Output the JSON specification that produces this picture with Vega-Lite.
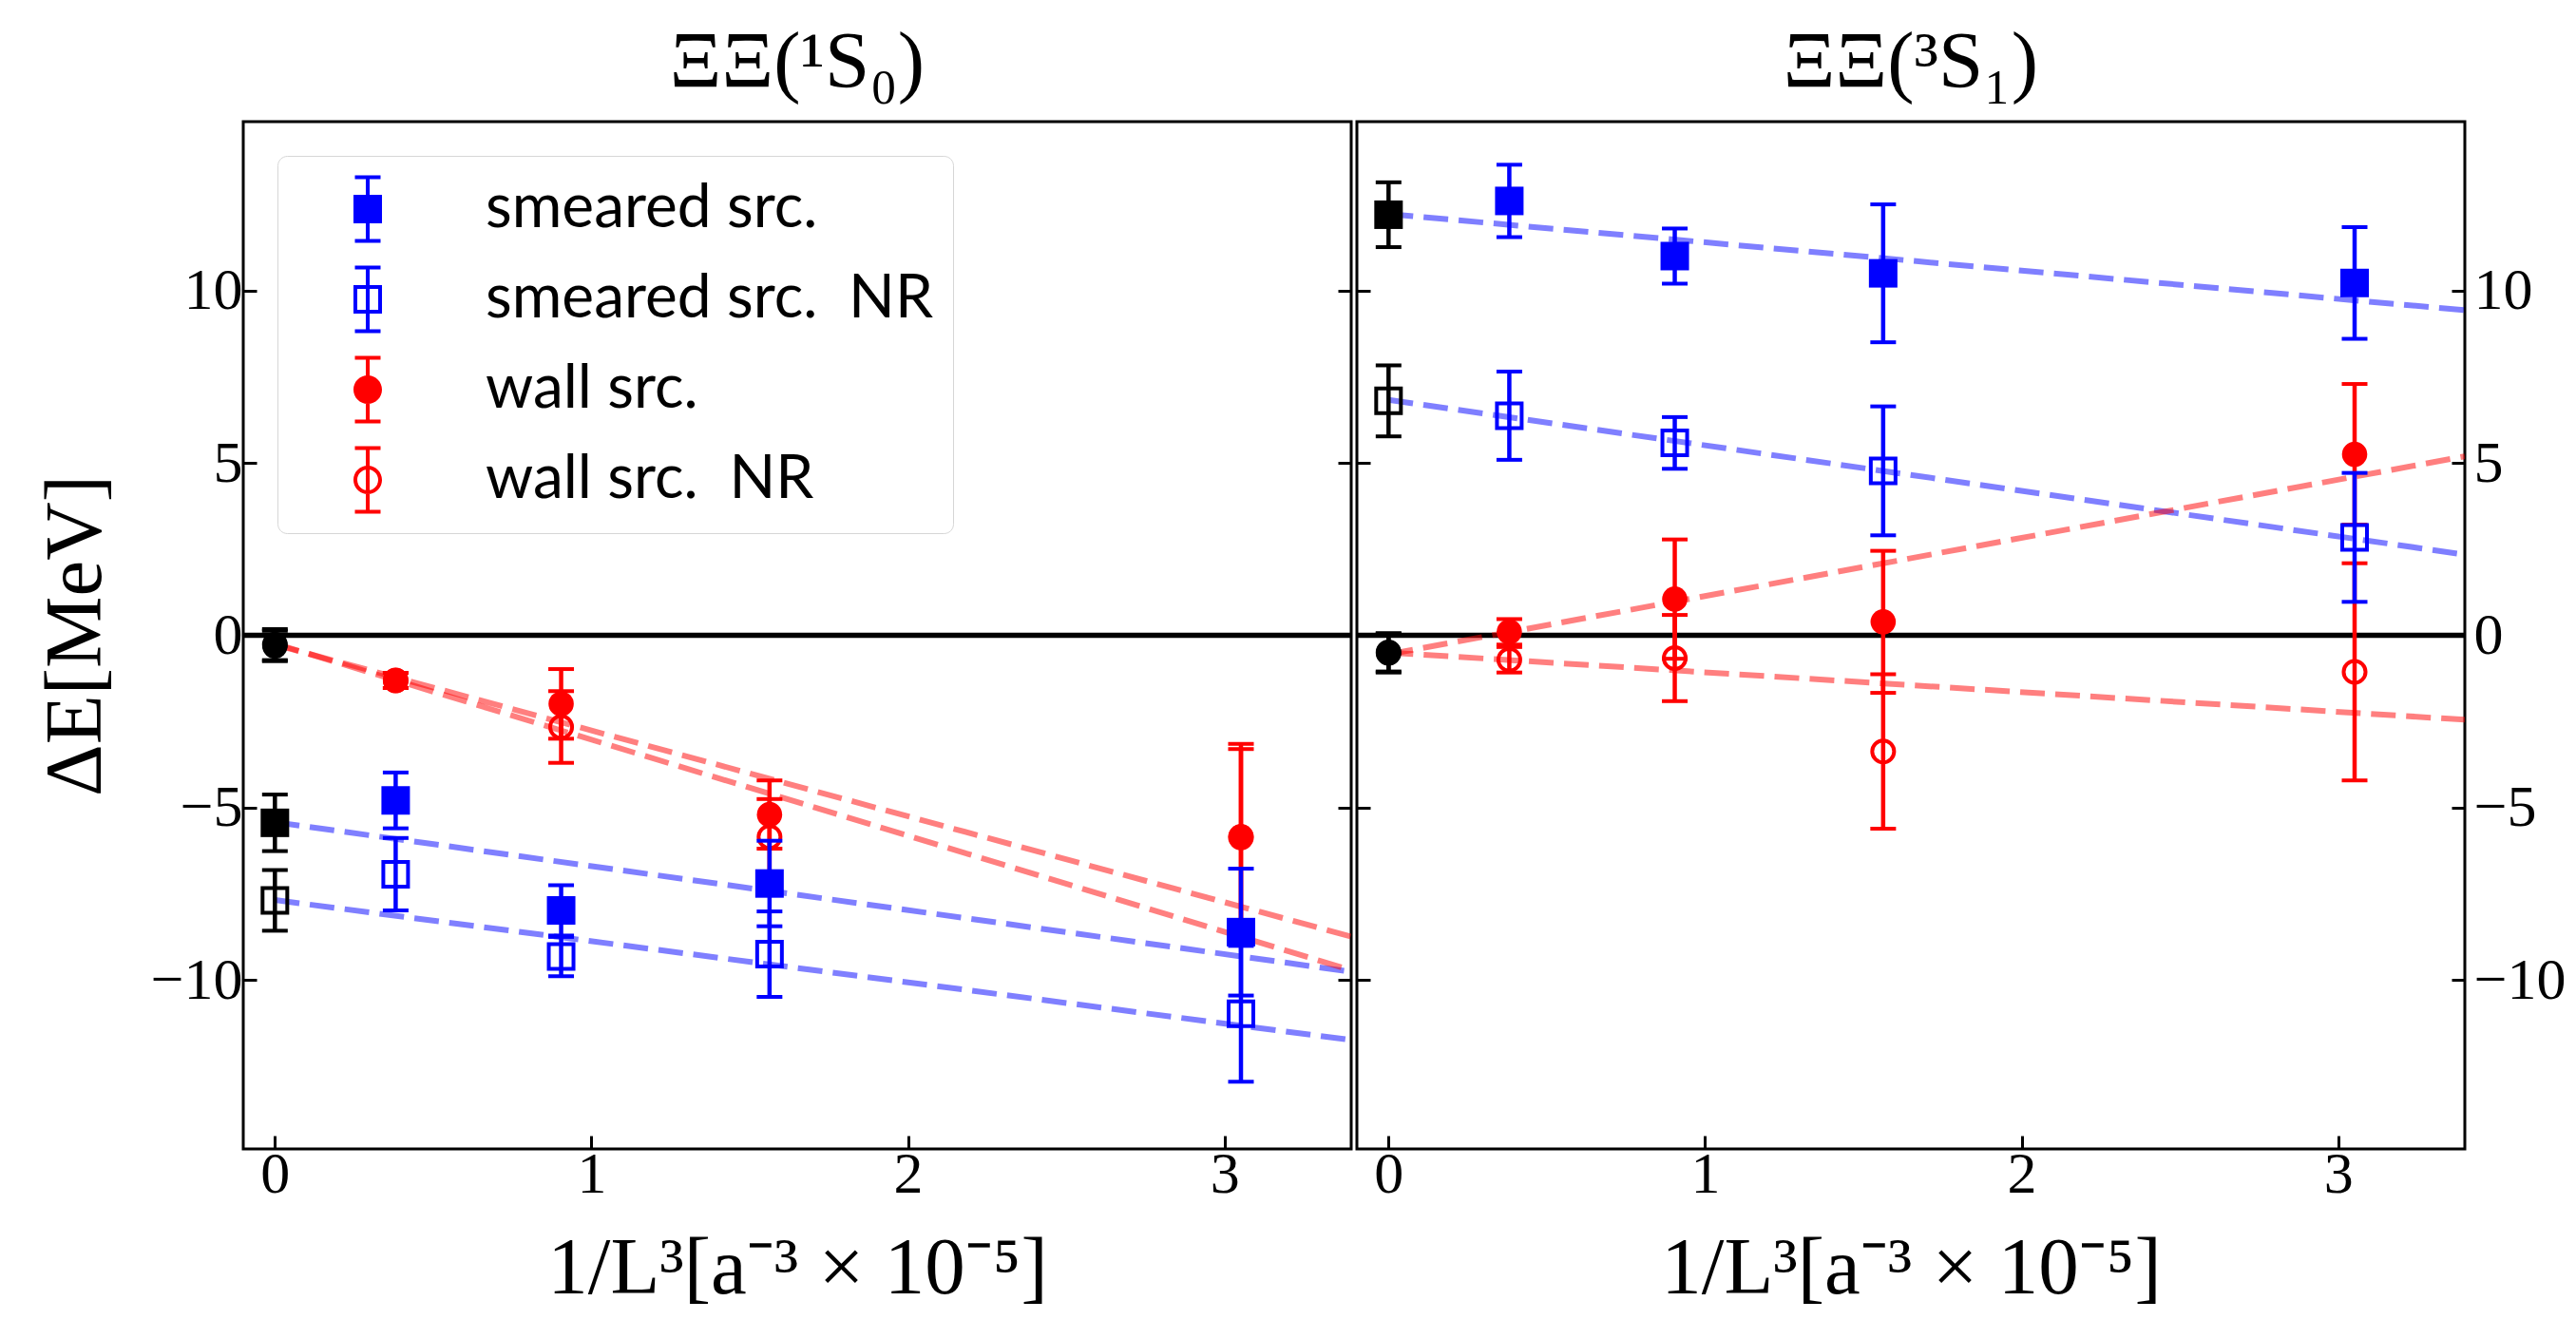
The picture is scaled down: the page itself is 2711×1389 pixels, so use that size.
{
  "$schema": "https://vega.github.io/schema/vega-lite/v6.json",
  "background": "white",
  "padding": {"left": 35, "top": 22, "right": 0, "bottom": 0},
  "datasets": {
    "pts": [
      {"panel": "1S0", "series": "smeared src.", "x": 0, "y": -5.44, "err": 0.82},
      {"panel": "1S0", "series": "smeared src.", "x": 0.3815, "y": -4.79, "err": 0.81},
      {"panel": "1S0", "series": "smeared src.", "x": 0.9042, "y": -7.98, "err": 0.73},
      {"panel": "1S0", "series": "smeared src.", "x": 1.5625, "y": -7.2, "err": 1.24},
      {"panel": "1S0", "series": "smeared src.", "x": 3.0518, "y": -8.61, "err": 1.84},
      {"panel": "1S0", "series": "smeared src. NR", "x": 0, "y": -7.69, "err": 0.88},
      {"panel": "1S0", "series": "smeared src. NR", "x": 0.3815, "y": -6.93, "err": 1.05},
      {"panel": "1S0", "series": "smeared src. NR", "x": 0.9042, "y": -9.32, "err": 0.57},
      {"panel": "1S0", "series": "smeared src. NR", "x": 1.5625, "y": -9.25, "err": 1.24},
      {"panel": "1S0", "series": "smeared src. NR", "x": 3.0518, "y": -10.98, "err": 1.97},
      {"panel": "1S0", "series": "wall src.", "x": 0, "y": -0.31, "err": 0.44},
      {"panel": "1S0", "series": "wall src.", "x": 0.3815, "y": -1.31, "err": 0.22},
      {"panel": "1S0", "series": "wall src.", "x": 0.9042, "y": -1.99, "err": 1.01},
      {"panel": "1S0", "series": "wall src.", "x": 1.5625, "y": -5.2, "err": 0.99},
      {"panel": "1S0", "series": "wall src.", "x": 3.0518, "y": -5.84, "err": 2.69},
      {"panel": "1S0", "series": "wall src. NR", "x": 0, "y": -0.27, "err": 0.45},
      {"panel": "1S0", "series": "wall src. NR", "x": 0.3815, "y": -1.31, "err": 0.22},
      {"panel": "1S0", "series": "wall src. NR", "x": 0.9042, "y": -2.66, "err": 1.04},
      {"panel": "1S0", "series": "wall src. NR", "x": 1.5625, "y": -5.85, "err": 1.1},
      {"panel": "1S0", "series": "wall src. NR", "x": 3.0518, "y": -5.86, "err": 2.56},
      {"panel": "3S1", "series": "smeared src.", "x": 0, "y": 12.2, "err": 0.94},
      {"panel": "3S1", "series": "smeared src.", "x": 0.3815, "y": 12.6, "err": 1.05},
      {"panel": "3S1", "series": "smeared src.", "x": 0.9042, "y": 11.0, "err": 0.8},
      {"panel": "3S1", "series": "smeared src.", "x": 1.5625, "y": 10.5, "err": 2.0},
      {"panel": "3S1", "series": "smeared src.", "x": 3.0518, "y": 10.22, "err": 1.62},
      {"panel": "3S1", "series": "smeared src. NR", "x": 0, "y": 6.8, "err": 1.03},
      {"panel": "3S1", "series": "smeared src. NR", "x": 0.3815, "y": 6.37, "err": 1.28},
      {"panel": "3S1", "series": "smeared src. NR", "x": 0.9042, "y": 5.58, "err": 0.75},
      {"panel": "3S1", "series": "smeared src. NR", "x": 1.5625, "y": 4.77, "err": 1.87},
      {"panel": "3S1", "series": "smeared src. NR", "x": 3.0518, "y": 2.84, "err": 1.87},
      {"panel": "3S1", "series": "wall src.", "x": 0, "y": -0.51, "err": 0.57},
      {"panel": "3S1", "series": "wall src.", "x": 0.3815, "y": 0.1, "err": 0.37},
      {"panel": "3S1", "series": "wall src.", "x": 0.9042, "y": 1.05, "err": 1.73},
      {"panel": "3S1", "series": "wall src.", "x": 1.5625, "y": 0.39, "err": 2.06},
      {"panel": "3S1", "series": "wall src.", "x": 3.0518, "y": 5.25, "err": 2.04},
      {"panel": "3S1", "series": "wall src. NR", "x": 0, "y": -0.5, "err": 0.55},
      {"panel": "3S1", "series": "wall src. NR", "x": 0.3815, "y": -0.71, "err": 0.37},
      {"panel": "3S1", "series": "wall src. NR", "x": 0.9042, "y": -0.66, "err": 1.25},
      {"panel": "3S1", "series": "wall src. NR", "x": 1.5625, "y": -3.37, "err": 2.24},
      {"panel": "3S1", "series": "wall src. NR", "x": 3.0518, "y": -1.06, "err": 3.15}
    ],
    "fits": [
      {"panel": "1S0", "series": "smeared src.", "x": 0, "y": -5.42},
      {"panel": "1S0", "series": "smeared src.", "x": 3.4, "y": -9.76},
      {"panel": "1S0", "series": "smeared src. NR", "x": 0, "y": -7.68},
      {"panel": "1S0", "series": "smeared src. NR", "x": 3.4, "y": -11.74},
      {"panel": "1S0", "series": "wall src.", "x": 0, "y": -0.27},
      {"panel": "1S0", "series": "wall src.", "x": 3.4, "y": -8.74},
      {"panel": "1S0", "series": "wall src. NR", "x": 0, "y": -0.24},
      {"panel": "1S0", "series": "wall src. NR", "x": 3.4, "y": -9.72},
      {"panel": "3S1", "series": "smeared src.", "x": 0, "y": 12.22},
      {"panel": "3S1", "series": "smeared src.", "x": 3.4, "y": 9.43},
      {"panel": "3S1", "series": "smeared src. NR", "x": 0, "y": 6.83},
      {"panel": "3S1", "series": "smeared src. NR", "x": 3.4, "y": 2.34},
      {"panel": "3S1", "series": "wall src.", "x": 0, "y": -0.55},
      {"panel": "3S1", "series": "wall src.", "x": 3.4, "y": 5.19},
      {"panel": "3S1", "series": "wall src. NR", "x": 0, "y": -0.5},
      {"panel": "3S1", "series": "wall src. NR", "x": 3.4, "y": -2.45}
    ]
  },
  "spacing": 0,
  "hconcat": [
    {
      "width": 1166,
      "height": 1081,
      "title": {"text": "ΞΞ(¹S₀)"},
      "layer": [
        {
          "data": {"values": [{}]},
          "mark": {"type": "rule", "color": "black", "strokeWidth": 5.5, "clip": true},
          "encoding": {
            "y": {"datum": 0, "type": "quantitative", "scale": {"domain": [-14.9, 14.9], "nice": false, "zero": false},
                  "axis": {"orient": "right", "labels": false, "title": null, "values": [-10, -5, 0, 5, 10], "tickSize": 14, "offset": -14, "minExtent": 0, "maxExtent": 0}}
          }
        },
        {
          "layer": [
            {
              "data": {"name": "pts"},
              "transform": [{"filter": "datum.panel == '1S0' && datum.x > 0"}],
              "mark": {"type": "point", "filled": true},
              "encoding": {
                "x": {"field": "x", "type": "quantitative", "title": "1/L³[a⁻³ × 10⁻⁵]"},
                "y": {"field": "y", "type": "quantitative", "title": "ΔE[MeV]"},
                "size": {"value": 1},
                "shape": {
                  "field": "series", "type": "nominal",
                  "scale": {
                    "domain": ["smeared src.", "smeared src. NR", "wall src.", "wall src. NR"],
                    "range": [
                      "M-0.375,-0.986H0.375V-0.875H-0.375Z M-0.375,0.875H0.375V0.986H-0.375Z M-0.056,-0.93H0.056V0.93H-0.056Z M-0.417,-0.417H0.417V0.417H-0.417Z",
                      "M-0.375,-0.986H0.375V-0.875H-0.375Z M-0.375,0.875H0.375V0.986H-0.375Z M-0.056,-0.93H0.056V0.93H-0.056Z M-0.417,-0.417H0.417V0.417H-0.417Z M-0.306,-0.306V0.306H0.306V-0.306Z",
                      "M-0.375,-0.986H0.375V-0.875H-0.375Z M-0.375,0.875H0.375V0.986H-0.375Z M-0.056,-0.93H0.056V0.93H-0.056Z M0,-0.417A0.417,0.417,0,1,1,0,0.417A0.417,0.417,0,1,1,0,-0.417Z",
                      "M-0.375,-0.986H0.375V-0.875H-0.375Z M-0.375,0.875H0.375V0.986H-0.375Z M-0.056,-0.93H0.056V0.93H-0.056Z M0,-0.417A0.417,0.417,0,1,1,0,0.417A0.417,0.417,0,1,1,0,-0.417Z M0,-0.306A0.306,0.306,0,1,0,0,0.306A0.306,0.306,0,1,0,0,-0.306Z"
                    ]
                  },
                  "legend": {
                    "title": null, "orient": "top-left", "offset": 36, "padding": 20,
                    "fillColor": "white", "strokeColor": "#d6d6d6", "cornerRadius": 10,
                    "symbolSize": 5184, "symbolOffset": 39, "labelOffset": 88, "rowPadding": 23,
                    "symbolStrokeWidth": 0, "symbolOpacity": 1,
                    "labelFont": "Lato", "labelFontSize": 64, "labelColor": "black", "labelLimit": 1000,
                    "labelExpr": "replace(datum.label, '. NR', '.\u00a0 NR')",
                    "encode": {
                      "symbols": {"update": {"size": {"value": 5184}, "opacity": {"value": 1}, "strokeWidth": {"value": 0}}},
                      "legend": {"update": {"strokeWidth": {"value": 3}}}
                    }
                  }
                },
                "fill": {
                  "field": "series", "type": "nominal",
                  "scale": {"domain": ["smeared src.", "smeared src. NR", "wall src.", "wall src. NR"], "range": ["#0000ff", "#0000ff", "#ff0000", "#ff0000"]},
                  "legend": {"title": null}
                }
              }
            },
            {
              "data": {"name": "fits"},
              "transform": [{"filter": "datum.panel == '1S0'"}],
              "mark": {"type": "line", "strokeDash": [26, 11], "strokeWidth": 6, "strokeOpacity": 0.5, "strokeCap": "butt", "strokeJoin": "bevel", "clip": true},
              "encoding": {
                "x": {"field": "x", "type": "quantitative", "title": "1/L³[a⁻³ × 10⁻⁵]", "scale": {"domain": [-0.1, 3.4], "nice": false, "zero": false},
                      "axis": {"values": [0, 1, 2, 3], "format": "d"}},
                "y": {"field": "y", "type": "quantitative", "title": "ΔE[MeV]", "scale": {"domain": [-14.9, 14.9], "nice": false, "zero": false},
                      "axis": {"orient": "left", "values": [-10, -5, 0, 5, 10], "format": "d"}},
                "color": {"field": "series", "type": "nominal", "legend": null,
                          "scale": {"domain": ["smeared src.", "smeared src. NR", "wall src.", "wall src. NR"], "range": ["#0000ff", "#0000ff", "#ff0000", "#ff0000"]}}
              }
            },
            {
              "data": {"name": "pts"},
              "transform": [{"filter": "datum.panel == '1S0' && datum.series == 'wall src. NR'"}],
              "mark": {"type": "errorbar", "ticks": {"opacity": 1, "thickness": 4}, "rule": {"strokeWidth": 4.5}, "size": 27, "thickness": 4, "opacity": 1},
              "encoding": {
                "x": {"field": "x", "type": "quantitative", "title": "1/L³[a⁻³ × 10⁻⁵]"},
                "y": {"field": "y", "type": "quantitative", "title": "ΔE[MeV]"},
                "yError": {"field": "err"},
                "color": {"condition": {"test": "datum.x == 0", "value": "black"}, "value": "#ff0000"}
              }
            },
            {
              "data": {"name": "pts"},
              "transform": [{"filter": "datum.panel == '1S0' && datum.series == 'wall src. NR'"}],
              "mark": {"type": "point", "shape": "circle", "filled": false, "size": 531, "strokeWidth": 4, "opacity": 1},
              "encoding": {
                "x": {"field": "x", "type": "quantitative", "title": "1/L³[a⁻³ × 10⁻⁵]"},
                "y": {"field": "y", "type": "quantitative", "title": "ΔE[MeV]"},
                "color": {"condition": {"test": "datum.x == 0", "value": "black"}, "value": "#ff0000"}
              }
            },
            {
              "data": {"name": "pts"},
              "transform": [{"filter": "datum.panel == '1S0' && datum.series == 'wall src.'"}],
              "mark": {"type": "errorbar", "ticks": {"opacity": 1, "thickness": 4}, "rule": {"strokeWidth": 4.5}, "size": 27, "thickness": 4, "opacity": 1},
              "encoding": {
                "x": {"field": "x", "type": "quantitative", "title": "1/L³[a⁻³ × 10⁻⁵]"},
                "y": {"field": "y", "type": "quantitative", "title": "ΔE[MeV]"},
                "yError": {"field": "err"},
                "color": {"condition": {"test": "datum.x == 0", "value": "black"}, "value": "#ff0000"}
              }
            },
            {
              "data": {"name": "pts"},
              "transform": [{"filter": "datum.panel == '1S0' && datum.series == 'wall src.'"}],
              "mark": {"type": "point", "shape": "circle", "filled": true, "size": 707, "strokeWidth": 0, "opacity": 1},
              "encoding": {
                "x": {"field": "x", "type": "quantitative", "title": "1/L³[a⁻³ × 10⁻⁵]"},
                "y": {"field": "y", "type": "quantitative", "title": "ΔE[MeV]"},
                "color": {"condition": {"test": "datum.x == 0", "value": "black"}, "value": "#ff0000"}
              }
            },
            {
              "data": {"name": "pts"},
              "transform": [{"filter": "datum.panel == '1S0' && datum.series == 'smeared src. NR'"}],
              "mark": {"type": "errorbar", "ticks": {"opacity": 1, "thickness": 4}, "rule": {"strokeWidth": 4.5}, "size": 27, "thickness": 4, "opacity": 1},
              "encoding": {
                "x": {"field": "x", "type": "quantitative", "title": "1/L³[a⁻³ × 10⁻⁵]"},
                "y": {"field": "y", "type": "quantitative", "title": "ΔE[MeV]"},
                "yError": {"field": "err"},
                "color": {"condition": {"test": "datum.x == 0", "value": "black"}, "value": "#0000ff"}
              }
            },
            {
              "data": {"name": "pts"},
              "transform": [{"filter": "datum.panel == '1S0' && datum.series == 'smeared src. NR'"}],
              "mark": {"type": "point", "shape": "square", "filled": false, "size": 676, "strokeWidth": 4, "opacity": 1},
              "encoding": {
                "x": {"field": "x", "type": "quantitative", "title": "1/L³[a⁻³ × 10⁻⁵]"},
                "y": {"field": "y", "type": "quantitative", "title": "ΔE[MeV]"},
                "color": {"condition": {"test": "datum.x == 0", "value": "black"}, "value": "#0000ff"}
              }
            },
            {
              "data": {"name": "pts"},
              "transform": [{"filter": "datum.panel == '1S0' && datum.series == 'smeared src.'"}],
              "mark": {"type": "errorbar", "ticks": {"opacity": 1, "thickness": 4}, "rule": {"strokeWidth": 4.5}, "size": 27, "thickness": 4, "opacity": 1},
              "encoding": {
                "x": {"field": "x", "type": "quantitative", "title": "1/L³[a⁻³ × 10⁻⁵]"},
                "y": {"field": "y", "type": "quantitative", "title": "ΔE[MeV]"},
                "yError": {"field": "err"},
                "color": {"condition": {"test": "datum.x == 0", "value": "black"}, "value": "#0000ff"}
              }
            },
            {
              "data": {"name": "pts"},
              "transform": [{"filter": "datum.panel == '1S0' && datum.series == 'smeared src.'"}],
              "mark": {"type": "point", "shape": "square", "filled": true, "size": 900, "strokeWidth": 0, "opacity": 1},
              "encoding": {
                "x": {"field": "x", "type": "quantitative", "title": "1/L³[a⁻³ × 10⁻⁵]"},
                "y": {"field": "y", "type": "quantitative", "title": "ΔE[MeV]"},
                "color": {"condition": {"test": "datum.x == 0", "value": "black"}, "value": "#0000ff"}
              }
            }
          ]
        }
      ],
      "resolve": {"axis": {"y": "independent"}}
    },
    {
      "width": 1166,
      "height": 1081,
      "title": {"text": "ΞΞ(³S₁)"},
      "layer": [
        {
          "data": {"values": [{}]},
          "mark": {"type": "rule", "color": "black", "strokeWidth": 5.5, "clip": true},
          "encoding": {
            "y": {"datum": 0, "type": "quantitative", "scale": {"domain": [-14.9, 14.9], "nice": false, "zero": false},
                  "axis": {"orient": "left", "labels": false, "title": null, "values": [-10, -5, 0, 5, 10], "tickSize": 14, "offset": -14, "minExtent": 0, "maxExtent": 0}}
          }
        },
        {
          "layer": [
            {
              "data": {"name": "fits"},
              "transform": [{"filter": "datum.panel == '3S1'"}],
              "mark": {"type": "line", "strokeDash": [26, 11], "strokeWidth": 6, "strokeOpacity": 0.5, "strokeCap": "butt", "strokeJoin": "bevel", "clip": true},
              "encoding": {
                "x": {"field": "x", "type": "quantitative", "title": "1/L³[a⁻³ × 10⁻⁵]", "scale": {"domain": [-0.1, 3.4], "nice": false, "zero": false},
                      "axis": {"values": [0, 1, 2, 3], "format": "d"}},
                "y": {"field": "y", "type": "quantitative", "title": null, "scale": {"domain": [-14.9, 14.9], "nice": false, "zero": false},
                      "axis": {"orient": "right", "values": [-10, -5, 0, 5, 10], "format": "d", "labelPadding": 23}},
                "color": {"field": "series", "type": "nominal", "legend": null,
                          "scale": {"domain": ["smeared src.", "smeared src. NR", "wall src.", "wall src. NR"], "range": ["#0000ff", "#0000ff", "#ff0000", "#ff0000"]}}
              }
            },
            {
              "data": {"name": "pts"},
              "transform": [{"filter": "datum.panel == '3S1' && datum.series == 'wall src. NR'"}],
              "mark": {"type": "errorbar", "ticks": {"opacity": 1, "thickness": 4}, "rule": {"strokeWidth": 4.5}, "size": 27, "thickness": 4, "opacity": 1},
              "encoding": {
                "x": {"field": "x", "type": "quantitative", "title": "1/L³[a⁻³ × 10⁻⁵]"},
                "y": {"field": "y", "type": "quantitative", "title": null},
                "yError": {"field": "err"},
                "color": {"condition": {"test": "datum.x == 0", "value": "black"}, "value": "#ff0000"}
              }
            },
            {
              "data": {"name": "pts"},
              "transform": [{"filter": "datum.panel == '3S1' && datum.series == 'wall src. NR'"}],
              "mark": {"type": "point", "shape": "circle", "filled": false, "size": 531, "strokeWidth": 4, "opacity": 1},
              "encoding": {
                "x": {"field": "x", "type": "quantitative", "title": "1/L³[a⁻³ × 10⁻⁵]"},
                "y": {"field": "y", "type": "quantitative", "title": null},
                "color": {"condition": {"test": "datum.x == 0", "value": "black"}, "value": "#ff0000"}
              }
            },
            {
              "data": {"name": "pts"},
              "transform": [{"filter": "datum.panel == '3S1' && datum.series == 'wall src.'"}],
              "mark": {"type": "errorbar", "ticks": {"opacity": 1, "thickness": 4}, "rule": {"strokeWidth": 4.5}, "size": 27, "thickness": 4, "opacity": 1},
              "encoding": {
                "x": {"field": "x", "type": "quantitative", "title": "1/L³[a⁻³ × 10⁻⁵]"},
                "y": {"field": "y", "type": "quantitative", "title": null},
                "yError": {"field": "err"},
                "color": {"condition": {"test": "datum.x == 0", "value": "black"}, "value": "#ff0000"}
              }
            },
            {
              "data": {"name": "pts"},
              "transform": [{"filter": "datum.panel == '3S1' && datum.series == 'wall src.'"}],
              "mark": {"type": "point", "shape": "circle", "filled": true, "size": 707, "strokeWidth": 0, "opacity": 1},
              "encoding": {
                "x": {"field": "x", "type": "quantitative", "title": "1/L³[a⁻³ × 10⁻⁵]"},
                "y": {"field": "y", "type": "quantitative", "title": null},
                "color": {"condition": {"test": "datum.x == 0", "value": "black"}, "value": "#ff0000"}
              }
            },
            {
              "data": {"name": "pts"},
              "transform": [{"filter": "datum.panel == '3S1' && datum.series == 'smeared src. NR'"}],
              "mark": {"type": "errorbar", "ticks": {"opacity": 1, "thickness": 4}, "rule": {"strokeWidth": 4.5}, "size": 27, "thickness": 4, "opacity": 1},
              "encoding": {
                "x": {"field": "x", "type": "quantitative", "title": "1/L³[a⁻³ × 10⁻⁵]"},
                "y": {"field": "y", "type": "quantitative", "title": null},
                "yError": {"field": "err"},
                "color": {"condition": {"test": "datum.x == 0", "value": "black"}, "value": "#0000ff"}
              }
            },
            {
              "data": {"name": "pts"},
              "transform": [{"filter": "datum.panel == '3S1' && datum.series == 'smeared src. NR'"}],
              "mark": {"type": "point", "shape": "square", "filled": false, "size": 676, "strokeWidth": 4, "opacity": 1},
              "encoding": {
                "x": {"field": "x", "type": "quantitative", "title": "1/L³[a⁻³ × 10⁻⁵]"},
                "y": {"field": "y", "type": "quantitative", "title": null},
                "color": {"condition": {"test": "datum.x == 0", "value": "black"}, "value": "#0000ff"}
              }
            },
            {
              "data": {"name": "pts"},
              "transform": [{"filter": "datum.panel == '3S1' && datum.series == 'smeared src.'"}],
              "mark": {"type": "errorbar", "ticks": {"opacity": 1, "thickness": 4}, "rule": {"strokeWidth": 4.5}, "size": 27, "thickness": 4, "opacity": 1},
              "encoding": {
                "x": {"field": "x", "type": "quantitative", "title": "1/L³[a⁻³ × 10⁻⁵]"},
                "y": {"field": "y", "type": "quantitative", "title": null},
                "yError": {"field": "err"},
                "color": {"condition": {"test": "datum.x == 0", "value": "black"}, "value": "#0000ff"}
              }
            },
            {
              "data": {"name": "pts"},
              "transform": [{"filter": "datum.panel == '3S1' && datum.series == 'smeared src.'"}],
              "mark": {"type": "point", "shape": "square", "filled": true, "size": 900, "strokeWidth": 0, "opacity": 1},
              "encoding": {
                "x": {"field": "x", "type": "quantitative", "title": "1/L³[a⁻³ × 10⁻⁵]"},
                "y": {"field": "y", "type": "quantitative", "title": null},
                "color": {"condition": {"test": "datum.x == 0", "value": "black"}, "value": "#0000ff"}
              }
            }
          ]
        }
      ],
      "resolve": {"axis": {"y": "independent"}}
    }
  ],
  "resolve": {
    "scale": {"shape": "independent", "fill": "independent", "color": "independent"}
  },
  "config": {
    "concat": {"spacing": 0},
    "view": {"stroke": "black", "strokeWidth": 3},
    "axis": {
      "grid": false, "domain": false, "ticks": true,
      "tickColor": "black", "tickWidth": 3, "tickSize": -14, "tickCap": "butt",
      "labelFont": "Liberation Serif", "labelFontSize": 62, "labelColor": "black", "labelFlush": false, "labelOverlap": false,
      "titleFont": "Liberation Serif", "titleFontSize": 85, "titleFontWeight": "normal", "titleColor": "black"
    },
    "axisX": {"labelPadding": 10, "titlePadding": 27},
    "axisY": {"labelPadding": 15, "titlePadding": 35},
    "title": {"font": "Liberation Serif", "fontSize": 85, "fontWeight": "normal", "color": "black", "anchor": "middle", "baseline": "alphabetic", "offset": 18}
  }
}
